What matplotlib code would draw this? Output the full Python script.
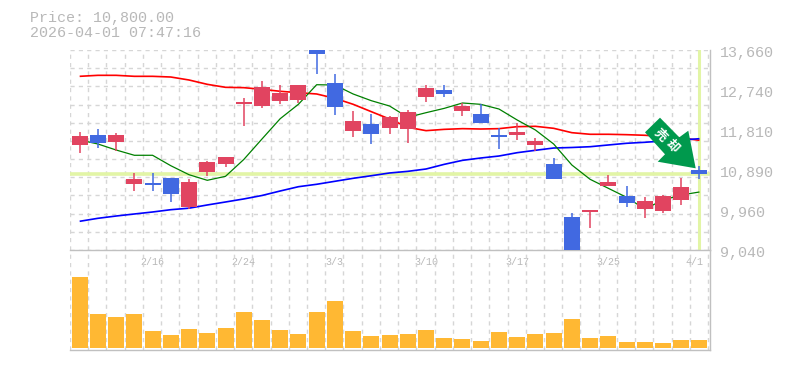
import matplotlib
matplotlib.use("Agg")
import matplotlib.pyplot as plt
from matplotlib.patches import Polygon, Rectangle
import numpy as np

W, H = 785, 370

price_title = "Price: 10,800.00"
time_title = "2026-04-01 07:47:16"
last_price = 10800
y_ticks = [13660, 12740, 11810, 10890, 9960, 9040]
y_labels = ["13,660", "12,740", "11,810", "10,890", "9,960", "9,040"]
date_idx = [4, 9, 14, 19, 24, 29, 34]
date_labels = ["2/16", "2/24", "3/3", "3/10", "3/17", "3/25", "4/1"]

opens = [11473, 11697, 11543, 10572, 10588, 10703, 10033, 10842, 11034, 12413, 12374, 12482,
         12505, 13800, 12898, 11789, 11951, 11858, 11843, 12582, 12736, 12251, 12182, 11696,
         11696, 11465, 11027, 9802, 9918, 10518, 10287, 9987, 9941, 10195, 10888]
closes = [11673, 11519, 11697, 10680, 10549, 10341, 10611, 11065, 11188, 12459, 12805, 12667,
          12851, 13575, 12343, 12020, 11720, 12112, 12228, 12782, 12644, 12366, 11974, 11650,
          11766, 11558, 10680, 8950, 9964, 10611, 10126, 10172, 10287, 10495, 10800]
highs = [11758, 11827, 11735, 10819, 10819, 10703, 10680, 11088, 11188, 12551, 12944, 12851,
         12851, 13800, 13106, 12251, 12182, 12135, 12274, 12851, 12851, 12428, 12413, 11850,
         11974, 11627, 11165, 9895, 9964, 10772, 10518, 10264, 10310, 10703, 10980]
lows = [11288, 11404, 11335, 10411, 10411, 10157, 9995, 10749, 10957, 11904, 12328, 12413,
        12436, 13106, 12159, 11650, 11489, 11720, 11512, 12459, 12574, 12135, 11974, 11373,
        11581, 11327, 10680, 8950, 9548, 10518, 10033, 9779, 9895, 10080, 10680]
volume = [71.3, 34.3, 31.3, 34.3, 17.3, 13.3, 19.3, 15.3, 20.3, 36.3, 28.3, 18.3, 14.3, 36.3,
          47.3, 17.3, 12.3, 13.3, 14.3, 18.3, 10.3, 9.3, 7.3, 16.3, 11.3, 14.3, 15.3, 29.3,
          10.3, 12.3, 6.3, 6.3, 5.3, 8.3, 8.3]
ma_green = [11581, 11489, 11350, 11228, 11228, 10987, 10779, 10650, 10742, 11130, 11604, 12073,
            12406, 12858, 12851, 12644, 12489, 12366, 12105, 12212, 12312, 12436, 12405, 12297,
            12043, 11812, 11489, 11003, 10673, 10465, 10257, 9987, 10195, 10311, 10380]
ma_red = [13052, 13075, 13075, 13052, 13052, 13036, 12967, 12867, 12798, 12790, 12752, 12706,
          12674, 12644, 12544, 12406, 12235, 12066, 11874, 11797, 11827, 11843, 11835, 11843,
          11889, 11897, 11851, 11750, 11713, 11713, 11704, 11690, 11666, 11627, 11574]
ma_blue = [9703, 9772, 9825, 9872, 9918, 9971, 10006, 10080, 10149, 10219, 10299, 10403,
           10502, 10558, 10627, 10696, 10756, 10819, 10857, 10911, 11019, 11111, 11165, 11211,
           11288, 11343, 11396, 11408, 11426, 11466, 11505, 11528, 11558, 11581, 11611]

RED, BLUE, ORANGE = "#E14460", "#4169E1", "#FFB833"
GRID, AXIS, TEXT, HILITE = "#D6D6D6", "#C0C0C0", "#B8B8B8", "#E2F5A6"
ARROW = "#00994D"
MONO = "Liberation Mono"

fig = plt.figure(figsize=(W / 100, H / 100), dpi=100, facecolor="white")
def make_ax(x0, y0, x1, y1):
    return fig.add_axes([x0 / W, 1 - y1 / H, (x1 - x0) / W, (y1 - y0) / H])

ax = make_ax(70, 50, 710, 250)
axv = make_ax(70, 250, 710, 350)
n = len(opens)
x = np.arange(n)
step = 18.23
left = -0.53
xlim = (left, left + 640 / step)
for a in (ax, axv):
    a.set_xlim(xlim)
    a.set_facecolor("none")
    for s in ("top", "left"):
        a.spines[s].set_visible(False)
    for s in ("bottom", "right"):
        a.spines[s].set_color(AXIS)
        a.spines[s].set_linewidth(1)
    a.tick_params(length=0)
    a.set_xticks(left + np.arange(n + 1))
    a.set_xticklabels([])
    a.set_yticklabels([])
    a.grid(True, axis="x", color=GRID, lw=1, linestyle=(0, (3, 3)), zorder=0)
    a.set_axisbelow(True)

ax.set_ylim(9040, 13660)
ax.set_yticks(np.linspace(9040, 13660, 12))
ax.set_yticklabels([])
ax.grid(True, axis="y", color=GRID, lw=1, linestyle=(0, (3, 3)), zorder=0)
axv.set_ylim(-2, 98)
axv.set_yticks([])

ax.axhline(last_price, xmin=0, xmax=638 / 640, color=HILITE, lw=2.6, zorder=1)
ax.axvline(x[-1], ymin=0.01, ymax=0.995, color=HILITE, lw=2.2, zorder=1)

for ser, col, lw in ((ma_red, "#FF0000", 1.2), (ma_blue, "#0000FF", 1.2), (ma_green, "#008000", 0.9)):
    ax.plot(x, ser, color=col, lw=lw, zorder=2, solid_capstyle="butt")

bw = 16 / step
for i in x:
    col = RED if closes[i] >= opens[i] else BLUE
    ax.vlines(i, lows[i], highs[i], color=col, lw=1.1, zorder=3)
    lo, hi = sorted((opens[i], closes[i]))
    ax.add_patch(Rectangle((i - bw / 2, lo), bw, hi - lo, facecolor=col, edgecolor="none", zorder=3))

axv.bar(x, volume, width=bw, color=ORANGE, linewidth=0, zorder=2)

for v, lab in zip(y_ticks, y_labels):
    ax.annotate(lab, xy=(1, (v - 9040) / 4620), xycoords="axes fraction", xytext=(10, -3),
                textcoords="offset pixels", ha="left", va="center", family=MONO,
                fontsize=10.8, color=TEXT)
for i, lab in zip(date_idx, date_labels):
    off = {"4/1": -5}.get(lab, 0)
    ax.annotate(lab, xy=(i, 9040), xycoords="data", xytext=(off, -12), textcoords="offset pixels",
                ha="center", va="center", family=MONO, fontsize=7.2, color=TEXT)

fig.text(30 / W, 1 - 18 / H, price_title, family=MONO, fontsize=10.8, color=TEXT, va="center")
fig.text(30 / W, 1 - 33 / H, time_title, family=MONO, fontsize=10.8, color=TEXT, va="center")

arrow_px = [(645, 132.3), (660, 117.7), (679.3, 137.3), (688.3, 130.7), (695.7, 168.3), (657.7, 161.7), (665, 154.3)]
fig.add_artist(Polygon([(a / W, 1 - b / H) for a, b in arrow_px], closed=True, transform=fig.transFigure,
                       facecolor=ARROW, edgecolor="none", zorder=5))
for ch, (a, b) in zip("売却", [(660.5, 135.5), (672.5, 146)]):
    fig.text(a / W, 1 - b / H, ch, family=["Noto Sans CJK JP", "DejaVu Sans"], fontsize=9, weight="bold", color="white",
             rotation=-45, ha="center", va="center", rotation_mode="anchor", zorder=6)

fig.savefig("out.png", dpi=100)
